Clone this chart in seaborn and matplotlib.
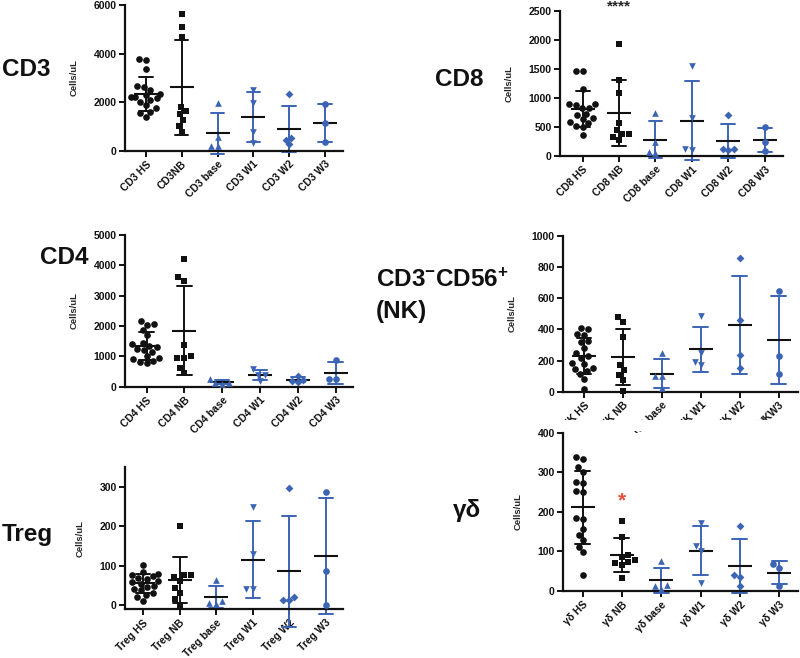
import matplotlib
matplotlib.use("Agg")
import matplotlib.pyplot as plt
from matplotlib.patches import Rectangle
import seaborn as sns

# values, one list per group
cd3_hs = [3780, 3740, 3350, 2660, 2640, 2500, 2330, 2290, 2220, 2220, 2160, 2090, 2020, 1880, 1740, 1610, 1540, 1400]
cd3_nb = [5630, 5110, 4700, 1810, 1630, 1510, 1260, 1030, 780]
cd3_base = [1950, 550, 200, 180]
cd3_w1 = [2500, 1950, 750, 300]
cd3_w2 = [2330, 540, 440, 260]
cd3_w3 = [1910, 1150, 340]

cd8_hs = [1460, 1460, 1160, 890, 890, 875, 835, 820, 730, 705, 650, 630, 590, 570, 515, 505, 360]
cd8_nb = [1925, 1310, 1090, 565, 450, 380, 375, 320, 275]
cd8_base = [735, 250, 75, 60]
cd8_w1 = [1550, 660, 120, 110]
cd8_w2 = [705, 120, 120, 105]
cd8_w3 = [500, 245, 90]

cd4_hs = [2150, 2060, 2050, 1880, 1700, 1450, 1400, 1350, 1300, 1250, 1200, 1150, 1000, 950, 900, 850, 800, 780]
cd4_nb = [4210, 3600, 3500, 1390, 1000, 950, 950, 620, 450]
cd4_base = [260, 130, 120, 100]
cd4_w1 = [570, 400, 400, 190]
cd4_w2 = [350, 230, 200, 150]
cd4_w3 = [870, 255, 250]

nk_hs = [409, 402, 370, 366, 323, 319, 280, 246, 227, 216, 184, 178, 152, 148, 131, 116, 81, 19]
nk_nb = [480, 447, 349, 169, 137, 109, 73, 2]
nk_base = [246, 98, 98, 24]
nk_w1 = [484, 248, 191, 169]
nk_w2 = [859, 460, 236, 152]
nk_w3 = [649, 231, 116]

treg_hs = [103, 84, 80, 76, 74, 70, 66, 62, 58, 55, 50, 46, 42, 38, 32, 27, 20, 12]
treg_nb = [200, 78, 76, 72, 62, 45, 32, 15, 2]
treg_base = [63, 12, 5, 3]
treg_w1 = [248, 130, 42, 42]
treg_w2 = [297, 21, 13, 13]
treg_w3 = [286, 86, 0]

gd_hs = [338, 333, 314, 301, 276, 274, 253, 251, 184, 182, 156, 142, 128, 112, 98, 41]
gd_nb = [177, 136, 92, 86, 78, 74, 72, 66, 32]
gd_base = [75, 15, 12, 5]
gd_w1 = [172, 114, 101, 21]
gd_w2 = [164, 40, 36, 13]
gd_w3 = [68, 59, 13]

cd3_labels = ["CD3 HS", "CD3NB", "CD3 base", "CD3 W1", "CD3 W2", "CD3 W3"]
cd8_labels = ["CD8 HS", "CD8 NB", "CD8 base", "CD8 W1", "CD8 W2", "CD8 W3"]
cd4_labels = ["CD4 HS", "CD4 NB", "CD4 base", "CD4 W1", "CD4 W2", "CD4 W3"]
nk_labels = ["NK HS", "NK NB", "NK base", "NK W1", "NK W2", "NKW3"]
treg_labels = ["Treg HS", "Treg NB", "Treg base", "Treg W1", "Treg W2", "Treg W3"]
gd_labels = ["γδ HS", "γδ NB", "γδ base", "γδ W1", "γδ W2", "γδ W3"]

BLACK = "#111111"
BLUE = "#3c64b4"
colors = [BLACK, BLACK, BLUE, BLUE, BLUE, BLUE]
markers = ["o", "s", "^", "v", "D", "o"]
msizes = [4.8, 4.8, 4.8, 4.8, 4.0, 4.8]

sns.set_style("ticks")
plt.rcParams["font.family"] = ["Liberation Sans", "DejaVu Sans"]
plt.rcParams["font.weight"] = "bold"
plt.rcParams["mathtext.fontset"] = "custom"
plt.rcParams["mathtext.rm"] = "Liberation Sans:bold"
plt.rcParams["mathtext.it"] = "Liberation Sans:bold"
plt.rcParams["mathtext.bf"] = "Liberation Sans:bold"
plt.rcParams["mathtext.default"] = "regular"

W, H = 800, 658


def px_axes(fig, left, top, right, bottom):
    # axes box given in pixel coords of the 800x658 picture
    return fig.add_axes([left / W, 1 - bottom / H, (right - left) / W, (bottom - top) / H])


def draw_panel(ax, groups, labels, ylim, yticks, xlim):
    for i, vals in enumerate(groups):
        x = [labels[i]] * len(vals)
        sns.swarmplot(x=x, y=vals, order=labels, color=colors[i], marker=markers[i],
                      size=msizes[i], ax=ax, zorder=3)
        sns.pointplot(x=x, y=vals, order=labels, errorbar="sd", capsize=0.38,
                      color=colors[i], marker="", linestyle="none",
                      err_kws={"linewidth": 1.4}, ax=ax)
        sns.pointplot(x=x, y=vals, order=labels, errorbar=None, color=BLACK,
                      marker="_", markersize=17, markeredgewidth=1.5,
                      linestyle="none", ax=ax)
    for coll in ax.collections:
        coll.set_clip_on(False)
    for ln in ax.lines:
        ln.set_clip_on(False)
    ax.set_ylim(*ylim)
    ax.set_yticks(yticks)
    ax.set_xlim(*xlim)
    ax.set_xticks(range(len(labels)))
    ax.set_xticklabels(labels, rotation=45, ha="right", rotation_mode="anchor",
                       fontweight="bold")
    ax.set_xlabel("")
    ax.set_ylabel("Cells/uL", fontsize=6.8, fontweight="bold", labelpad=11)
    sns.despine(ax=ax)
    for side in ["left", "bottom"]:
        ax.spines[side].set_linewidth(1.6)
        ax.spines[side].set_color(BLACK)
    ax.tick_params(direction="out", length=4, width=1.4, labelsize=7.5, colors=BLACK, pad=2)
    for t in ax.get_yticklabels():
        t.set_fontweight("bold")


fig = plt.figure(figsize=(8, 6.58), dpi=100)

ax_cd3 = px_axes(fig, 125, 5, 343, 150.7)
draw_panel(ax_cd3, [cd3_hs, cd3_nb, cd3_base, cd3_w1, cd3_w2, cd3_w3], cd3_labels,
           (0, 6000), [0, 2000, 4000, 6000], (-0.58, 5.5))

ax_cd8 = px_axes(fig, 560, 11, 783, 156)
draw_panel(ax_cd8, [cd8_hs, cd8_nb, cd8_base, cd8_w1, cd8_w2, cd8_w3], cd8_labels,
           (0, 2500), [0, 500, 1000, 1500, 2000, 2500], (-0.62, 5.5))
ax_cd8.text(1, 2570, "****", ha="center", va="center", fontsize=11, clip_on=False)

ax_cd4 = px_axes(fig, 125, 235, 353, 386.7)
draw_panel(ax_cd4, [cd4_hs, cd4_nb, cd4_base, cd4_w1, cd4_w2, cd4_w3], cd4_labels,
           (0, 5000), [0, 1000, 2000, 3000, 4000, 5000], (-0.57, 5.46))

ax_nk = px_axes(fig, 563, 236, 798, 391.7)
draw_panel(ax_nk, [nk_hs, nk_nb, nk_base, nk_w1, nk_w2, nk_w3], nk_labels,
           (0, 1000), [0, 200, 400, 600, 800, 1000], (-0.54, 5.5))

ax_treg = px_axes(fig, 125, 467, 343, 609.3)
draw_panel(ax_treg, [treg_hs, treg_nb, treg_base, treg_w1, treg_w2, treg_w3], treg_labels,
           (-10, 350), [0, 100, 200, 300], (-0.5, 5.47))

ax_gd = px_axes(fig, 563, 432.7, 798, 591)
draw_panel(ax_gd, [gd_hs, gd_nb, gd_base, gd_w1, gd_w2, gd_w3], gd_labels,
           (0, 400), [0, 100, 200, 300, 400], (-0.5, 5.48))
ax_gd.text(1, 228, "*", ha="center", va="center", fontsize=15, color="#e8503a")
ax_gd.set_zorder(1)

# the pasted lower-right panel hides the lower part of the NK tick labels
fig.add_artist(Rectangle((540 / W, 1 - 431 / H), 260 / W, 11 / H, transform=fig.transFigure,
                         facecolor="white", edgecolor="none", zorder=0.5))

title_kw = dict(fontsize=17.5, fontweight="bold", va="center", ha="left", color=BLACK)
fig.text(2 / W, 1 - 69 / H, "CD3", **title_kw)
fig.text(435 / W, 1 - 79 / H, "CD8", **title_kw)
fig.text(40 / W, 1 - 257 / H, "CD4", **title_kw)
fig.text(376 / W, 1 - 280 / H, "CD3$^{-}$CD56$^{+}$", **title_kw)
fig.text(376 / W, 1 - 312 / H, "(NK)", **title_kw)
fig.text(2 / W, 1 - 535 / H, "Treg", **title_kw)
fig.text(453 / W, 1 - 510 / H, "γδ", **title_kw)

fig.savefig("out.png", dpi=100)
